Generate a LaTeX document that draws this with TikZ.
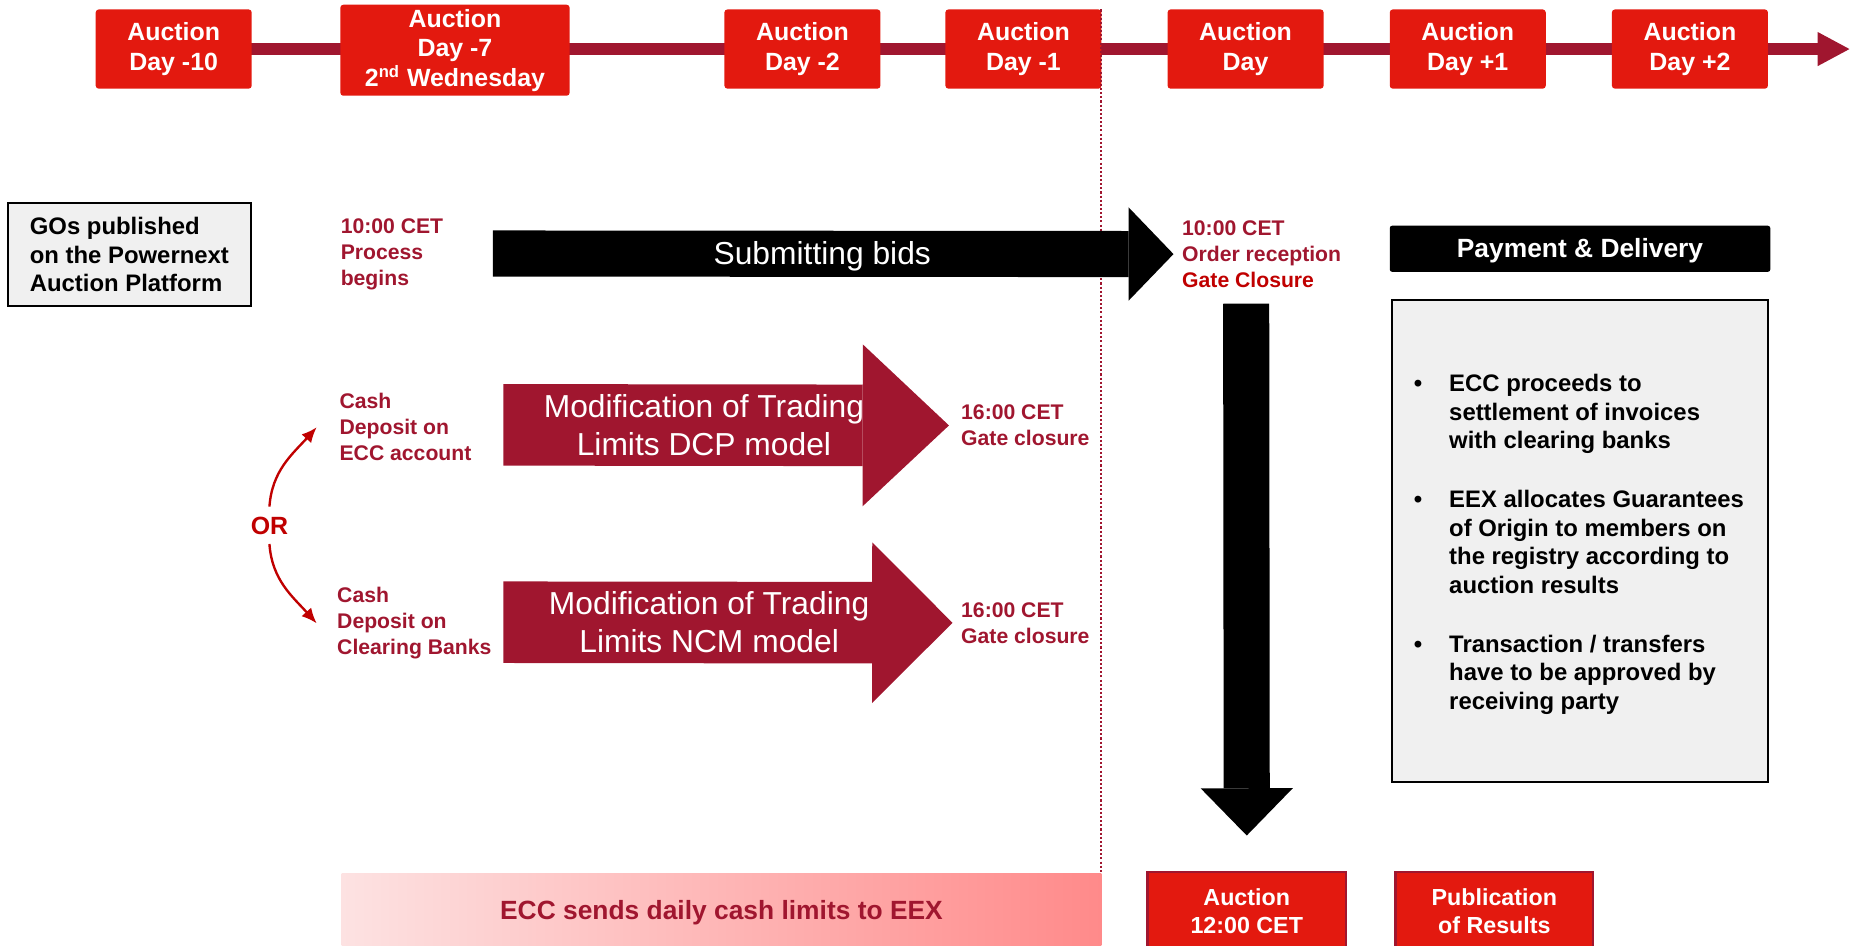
\documentclass[tikz,border=0pt]{standalone}
\usepackage{fontspec}
\setmainfont{Liberation Sans}
\usetikzlibrary{arrows.meta}
\definecolor{boxred}{HTML}{E3190F}
\definecolor{wine}{HTML}{A0162F}
\definecolor{closered}{HTML}{C00000}
\definecolor{panelgray}{HTML}{F0F0F0}
\definecolor{pinkleft}{HTML}{FDE2E2}
\definecolor{pinkright}{HTML}{FF8A8A}
\begin{document}
\begin{tikzpicture}[x=0.2mm, y=-0.2mm,
    daybox/.style={fill=boxred, rounded corners=0.5mm, text=white, font=\fontsize{12}{14.2}\selectfont\bfseries, align=center, inner sep=0pt, minimum width=26.4mm, minimum height=13.4mm},
    redtxt/.style={text=wine, font=\fontsize{10.2}{12.5}\selectfont\bfseries, align=left, inner sep=0pt},
    bigtxt/.style={text=white, font=\fontsize{15.3}{18.2}\selectfont, align=center, inner sep=0pt},
    blockarrow/.style n args={3}{line width=#1, -{Triangle[width=#2, length=#3, line width=0pt]}},
    greybox/.style={draw=black, fill=panelgray, line width=0.35mm, inner sep=0pt, align=left, font=\fontsize{11.5}{13.7}\selectfont\bfseries},
    resbox/.style={fill=boxred, draw=wine, line width=0.4mm, text=white, font=\fontsize{11.2}{13.7}\selectfont\bfseries, align=center, inner sep=0pt, minimum width=33.6mm, minimum height=13.2mm},
    orarrow/.style={closered, line width=0.4mm, -{Latex[length=2.6mm, width=2.2mm]}}]
  \useasboundingbox (0,0) rectangle (1568,800);
  \coordinate (timestart) at (180,41.5);
  \coordinate (timeend) at (1565,41.5);
  \draw[wine, blockarrow={2mm}{5.8mm}{5.4mm}] (timestart) -- (timeend);
  \node[daybox] (dm10) at (147,41.5) {Auction\\Day -10};
  \node[daybox, minimum width=38.8mm, minimum height=15.4mm] (dm7) at (385,42.5) {Auction\\Day -7\\2\textsuperscript{nd} Wednesday};
  \node[daybox] (dm2) at (679,41.5) {Auction\\Day -2};
  \node[daybox] (dm1) at (866,41.5) {Auction\\Day -1};
  \node[daybox] (d0) at (1054,41.5) {Auction\\Day};
  \node[daybox] (dp1) at (1242,41.5) {Auction\\Day +1};
  \node[daybox] (dp2) at (1430,41.5) {Auction\\Day +2};
  \draw[wine, line width=0.35mm, dash pattern=on 0.35mm off 0.35mm] (932,8) -- (932,800);

  \node[greybox, minimum width=41mm, minimum height=17.4mm] (gos) at (109.5,215.5) {GOs published\\on the Powernext\\Auction Platform};
  \node[redtxt, anchor=west] (begins) at (288,215) {10:00 CET\\Process\\begins};
  \node[redtxt, anchor=west] (gate) at (1000,215) {10:00 CET\\Order reception\\\textcolor{closered}{Gate Closure}};
  \coordinate (bidsstart) at (417,214.5);
  \draw[blockarrow={7.8mm}{15.8mm}{7.6mm}] (bidsstart) -- ([xshift=-1.4mm]gate.west) node[pos=0.484, yshift=-0.5mm, bigtxt] {Submitting bids};

  \node[redtxt, anchor=west] (cashecc) at (287,361.5) {Cash\\Deposit on\\ECC account};
  \node[redtxt, anchor=west] (cashbank) at (285,527.5) {Cash\\Deposit on\\Clearing Banks};
  \node[text=closered, font=\fontsize{12}{14}\selectfont\bfseries, inner sep=0pt] (ornode) at (228,445) {OR};
  \draw[orarrow] ([yshift=1.7mm]ornode.north) to[out=86, in=228] ([xshift=-3.8mm]cashecc.west);
  \draw[orarrow] ([yshift=-1.5mm]ornode.south) to[out=-86, in=132] ([xshift=-3.4mm]cashbank.west);

  \node[redtxt, anchor=west] (dcpgate) at (813,360) {16:00 CET\\Gate closure};
  \node[redtxt, anchor=west] (ncmgate) at (813,527) {16:00 CET\\Gate closure};
  \coordinate (dcpstart) at (426,359.5);
  \coordinate (ncmstart) at (426,526.5);
  \draw[wine, blockarrow={13.8mm}{27.4mm}{14.6mm}] (dcpstart) -- ([xshift=-2mm]dcpgate.west) node[pos=0.45, bigtxt] {Modification of Trading\\Limits DCP model};
  \draw[wine, blockarrow={13.8mm}{27.2mm}{13.6mm}] (ncmstart) -- ([xshift=-1.4mm]ncmgate.west) node[pos=0.458, bigtxt] {Modification of Trading\\Limits NCM model};

  \node[fill=black, rounded corners=0.4mm, minimum width=64.4mm, minimum height=7.8mm, inner sep=0pt] (pay) at (1337,210.5) {};
  \node[text=white, font=\fontsize{12.7}{15}\selectfont\bfseries, inner sep=0pt] (paytxt) at (1337,212.5) {Payment \& Delivery};
  \node[greybox, minimum width=63.6mm, minimum height=81.6mm] (panel) at (1337,458) {};
  \node[align=left, inner sep=0pt, font=\fontsize{11.5}{13.7}\selectfont\bfseries] (list) at (1336,461) {\begin{tabular}{@{}p{6mm}@{}l@{}}
    • & ECC proceeds to\\
      & settlement of invoices\\
      & with clearing banks\\[14.8pt]
    • & EEX allocates Guarantees\\
      & of Origin to members on\\
      & the registry according to\\
      & auction results\\[14.8pt]
    • & Transaction / transfers\\
      & have to be approved by\\
      & receiving party
  \end{tabular}};

  \node[resbox] (auct) at (1055,771) {Auction\\12:00 CET};
  \node[resbox, minimum width=33.4mm] (pub) at (1264.5,771) {Publication\\of Results};
  \coordinate (downstart) at (1054.5,257);
  \draw[blockarrow={7.8mm}{15.6mm}{8mm}] (downstart) -- ([yshift=6mm]auct.north);
  \node[left color=pinkleft, right color=pinkright, text=wine, font=\fontsize{12.7}{15}\selectfont\bfseries, minimum width=128.6mm, minimum height=13.2mm, inner sep=0pt] (limits) at (610.5,772) {ECC sends daily cash limits to EEX};
\end{tikzpicture}
\end{document}
